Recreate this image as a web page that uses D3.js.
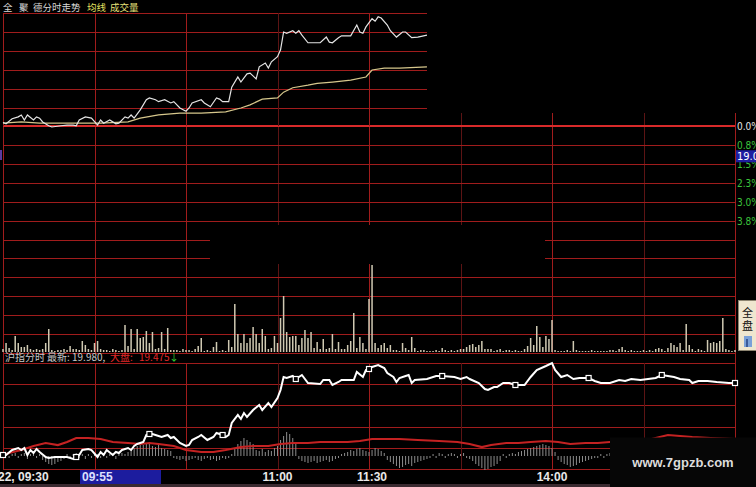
<!DOCTYPE html>
<html><head><meta charset="utf-8">
<script src="https://cdn.jsdelivr.net/npm/d3@7"></script>
<style>html,body{margin:0;padding:0;background:#000;overflow:hidden}</style>
</head><body>
<svg id="c" width="756" height="487"></svg>
<script>
// ---------- DATA ----------
// top panel (全聚德): [minute, price]
const topPrice = [[0,18.67],[1,18.65],[3,18.73],[5,18.76],[6,18.79],[7,18.71],[8,18.79],[10,18.71],[11,18.76],[12,18.74],[13,18.68],[15,18.62],[16,18.60],[19,18.62],[21,18.63],[23,18.63],[24,18.62],[25,18.71],[27,18.76],[29,18.74],[31,18.63],[32,18.71],[33,18.66],[35,18.71],[37,18.65],[38,18.66],[40,18.76],[41,18.74],[42,18.79],[43,18.74],[45,18.87],[47,19.03],[48,19.06],[50,19.03],[51,19.00],[53,19.03],[55,18.98],[56,19.00],[58,18.90],[60,18.85],[61,18.90],[62,18.98],[65,19.03],[66,18.98],[68,18.92],[70,19.06],[71,19.04],[72,19.00],[74,19.00],[75,19.23],[77,19.39],[78,19.31],[80,19.44],[81,19.45],[83,19.36],[84,19.55],[86,19.61],[87,19.53],[88,19.63],[90,19.71],[91,19.82],[92,20.10],[93,20.08],[95,20.12],[96,20.08],[97,20.12],[98,20.05],[100,19.93],[104,19.93],[106,20.02],[107,19.94],[108,19.93],[110,20.01],[111,20.04],[114,20.04],[116,20.21],[117,20.10],[118,20.08],[119,20.18],[121,20.31],[122,20.27],[123,20.34],[124,20.32],[126,20.21],[127,20.12],[129,20.02],[131,20.10],[132,20.10],[134,20.01],[136,20.02],[139,20.05]];
const topAvg = [[0,18.66],[6,18.68],[12,18.66],[21,18.66],[32,18.66],[41,18.68],[45,18.74],[51,18.79],[58,18.82],[65,18.82],[73,18.84],[78,18.90],[81,18.95],[85,19.04],[90,19.06],[92,19.15],[95,19.22],[100,19.26],[103,19.29],[108,19.31],[114,19.34],[119,19.39],[121,19.50],[125,19.53],[130,19.53],[139,19.55]];
const topGridPrices = [18.9,19.2,19.5,19.8,20.1,20.4];

// main chart volume, one value per minute (0..240)
const volumes = [30,90,40,20,160,90,50,50,70,30,
20,30,20,30,90,230,20,10,20,20,
30,20,60,30,30,20,110,70,30,20,
90,110,30,20,20,10,30,20,10,20,
270,60,230,30,230,140,150,210,90,200,
30,40,200,30,240,20,20,20,10,30,
20,20,10,30,60,140,10,20,10,50,
100,10,20,10,120,50,480,180,90,180,
90,140,250,180,90,230,160,30,40,160,
90,340,560,200,150,160,160,70,140,220,
140,200,40,100,30,130,30,40,180,30,
100,30,30,70,110,390,40,150,90,30,
530,870,90,40,70,90,40,70,20,20,
10,90,40,20,150,40,10,20,20,10,
10,10,20,10,40,20,10,20,10,20,
30,30,50,70,80,50,70,110,30,30,
30,10,20,30,10,20,20,10,20,10,
10,30,60,140,70,260,150,50,160,130,
320,20,10,10,10,20,10,110,20,10,
10,10,10,20,10,10,10,10,10,20,
20,10,30,50,20,10,20,10,10,10,
20,10,20,10,30,40,30,10,40,90,
70,50,90,20,280,70,30,10,30,20,
10,120,90,100,90,110,340,30,20,10,
20];
const pctGrid = [0,0.75,1.5,2.25,3,3.75,4.5,5.25,6,6.75,7.5,8.25,9];
const pctTicks = [0,0.75,1.5,2.25,3,3.75];
const pctLabels = ["0.0%","0.8%","1.5%","2.3%","3.0%","3.8%"];
const currentTag = {label:"19.0", pct:1.2};

// bottom panel (沪指分时): [minute, value]
const idxLine = [[0,2907],[1,2907],[3,2909.5],[5,2910.5],[6,2909.5],[7,2910.5],[8,2907],[9,2909.5],[10,2908],[11,2910],[12,2908.5],[14,2906],[15,2905.5],[17,2906],[21,2906],[23,2905],[25,2907],[26,2909.5],[28,2910],[29,2909.5],[31,2906],[32,2908.5],[33,2907],[34,2909.5],[36,2907],[37,2908.5],[38,2908],[39,2909.5],[41,2910.5],[42,2909.5],[43,2911.5],[44,2912.5],[46,2913.5],[47,2917],[49,2917.5],[50,2917],[52,2916],[54,2917],[55,2915.5],[56,2916],[58,2913],[60,2911.5],[61,2912],[62,2914.5],[64,2916],[65,2917],[67,2914.5],[69,2916],[70,2918],[72,2917],[73,2916],[74,2917],[75,2923],[77,2927],[78,2925],[79,2928],[80,2926],[82,2929.5],[84,2932],[85,2929.5],[87,2933],[88,2931],[90,2935.5],[91,2939.5],[92,2946],[93,2945.5],[95,2946.5],[96,2945],[98,2947],[100,2943],[104,2942.5],[105,2944.5],[107,2944.5],[108,2942],[110,2943.5],[111,2944.5],[115,2944.5],[116,2948.5],[118,2946],[119,2949.5],[121,2951],[123,2952],[125,2950.5],[126,2948],[128,2946],[129,2943.5],[130,2945.5],[132,2946.5],[133,2947],[134,2943],[135,2944.5],[139,2945],[142,2946.5],[144,2946.5],[148,2946],[150,2945],[152,2946],[153,2945],[156,2943],[158,2940],[159,2939.5],[161,2941],[162,2941],[164,2943],[166,2943],[168,2942],[171,2942],[173,2946],[175,2949.5],[178,2951.5],[180,2953],[181,2949.5],[183,2946],[185,2947],[187,2945],[189,2945.5],[192,2945.5],[194,2944],[196,2943],[199,2943],[202,2944.5],[204,2944],[206,2945],[209,2944.5],[214,2945.5],[216,2947],[218,2946.5],[220,2946],[222,2945],[225,2944.5],[226,2943],[228,2944],[231,2944],[234,2943.5],[238,2943],[240,2943]];
const idxMarkers = [[0,2907],[24,2906],[48,2917.5],[72,2917],[96,2945],[120,2950],[144,2946.5],[168,2942],[192,2945.5],[216,2947],[240,2943]];
const idxRed = [[0,2907],[2,2908],[6,2909.5],[10,2911.5],[14,2913],[18,2912],[21,2913.5],[24,2915.5],[28,2915.5],[32,2915],[36,2913.5],[41,2913],[45,2912.5],[48,2913],[51,2912.5],[56,2911.5],[60,2909.5],[65,2908.5],[69,2908.5],[73,2909.5],[78,2911],[82,2911.5],[87,2911.5],[91,2912.5],[95,2913],[100,2913],[104,2913.5],[108,2913.5],[113,2913.5],[117,2914],[121,2915],[130,2915],[136,2914.5],[143,2914],[149,2913.5],[153,2912.5],[157,2911],[160,2912],[165,2913],[169,2913],[173,2913.5],[178,2914],[182,2913.5],[186,2912.5],[191,2913],[195,2913],[199,2913.5],[205,2913.5],[210,2914],[214,2915.5],[218,2917],[222,2916.5],[226,2916],[232,2915.5],[240,2915]];
const idxDiff = [2,3,-2,2,3,-2,2,3,-3,2,3,-2,2,
-4,-6,-8,-9,-8,-6,-5,-3,
2,-2,2,3,-2,2,-3,2,-2,3,2,-2,3,-2,2,2,-3,2,3,2,
4,6,8,10,12,11,13,12,10,9,11,8,7,6,5,
-2,-3,-4,-3,-5,-4,-3,-2,-4,-5,-3,-2,-4,-3,-5,-4,-2,-3,-2,2,
8,12,15,18,16,14,12,
6,5,7,4,6,5,8,10,
16,20,24,22,18,14,
-3,-5,-6,-7,-6,-5,-7,-6,-5,-4,-6,-5,-3,-2,
2,3,4,6,5,7,8,6,5,4,
6,8,7,5,3,
-4,-6,-8,-10,-12,-11,-9,-8,-10,-7,-6,-5,-4,-3,-2,
2,-2,3,2,-2,2,3,2,-2,2,3,-2,-3,-5,-8,
-10,-12,-14,-13,-11,-10,-8,-5,
2,-2,2,3,2,4,5,
6,7,8,9,10,11,12,11,10,8,4,
-4,-6,-8,-9,-11,-10,-9,-7,-6,-5,-4,-3,-2,-2,
2,-2,2,3,-2,-3,2,2,-2,3,2,-2,2,3,-2,2,2,-3,2,3,2,-2,2,3,-2,2,2,-3,2,3,2,-2,2,3,-2,2,2,-3,2,3,2,-2,2,3,2];
const idxGrid = [2900,2910.6,2921.2,2931.8,2942.4,2953];

const gridMinutes = [0,30,60,90,120,150,180,210,240];
const dimMinutes = [90,150,210];
const timeTicks = [0,25,90,120,180];
const timeLabels = ["22, 09:30","09:55","11:00","11:30","14:00"];

// ---------- DRAW ----------
const svg = d3.select("#c");
svg.append("rect").attr("width",756).attr("height",487).attr("fill","#000");
const x = d3.scaleLinear().domain([0,240]).range([3,735]);
const px = v => Math.round(v) + 0.5;
const yPct = d3.scaleLinear().domain([0,9]).range([126,353]);
const yVol = d3.scaleLinear().domain([0,1000]).range([352,252]);
const yTop = d3.scaleLinear().domain([18.6,20.4]).range([127,13]);
const yIdx = d3.scaleLinear().domain([2900,2953]).range([469,363]);
const yDiff = d3.scaleLinear().domain([-20,20]).range([476,436]);
const RED = "#a01c1c", DIM = "#5c1414", BRIGHT = "#d82a2a";
const cjk = "'Noto Sans CJK SC', sans-serif";

// main grid
const g = svg.append("g");
g.selectAll(".hv").data(gridMinutes).join("line")
  .attr("x1",d=>px(x(d))).attr("x2",d=>px(x(d)))
  .attr("y1",113).attr("y2",353)
  .attr("stroke",d=>dimMinutes.includes(d)?DIM:RED).attr("stroke-width",1);
g.selectAll(".hh").data(pctGrid).join("line")
  .attr("x1",3).attr("x2",735)
  .attr("y1",d=>d===0?yPct(d):px(yPct(d))).attr("y2",d=>d===0?yPct(d):px(yPct(d)))
  .attr("stroke",d=>d===0?BRIGHT:RED).attr("stroke-width",d=>d===0?2:1);
// pasted black block in the middle
svg.append("rect").attr("x",210).attr("y",225).attr("width",335).attr("height",39).attr("fill","#000");

// volume bars
svg.append("g").selectAll("rect").data(volumes).join("rect")
  .attr("x",(d,i)=>x(i)-0.75).attr("width",1.5)
  .attr("y",d=>yVol(d)).attr("height",d=>yVol(0)-yVol(d))
  .attr("fill","#cfc9b2");

// left small mark
svg.append("rect").attr("x",0).attr("y",150).attr("width",2).attr("height",10).attr("fill","#5a3aa0");

// top panel
svg.append("rect").attr("x",0).attr("y",0).attr("width",428).attr("height",125).attr("fill","#000");
const tg = svg.append("g");
tg.selectAll("line.h").data(topGridPrices).join("line")
  .attr("x1",3).attr("x2",427).attr("y1",d=>px(yTop(d))).attr("y2",d=>px(yTop(d)))
  .attr("stroke",RED);
tg.selectAll("line.v").data(gridMinutes.filter(m=>x(m)<=427)).join("line")
  .attr("x1",d=>px(x(d))).attr("x2",d=>px(x(d))).attr("y1",13).attr("y2",126)
  .attr("stroke",d=>dimMinutes.includes(d)?DIM:RED);
const lineTop = d3.line().x(d=>x(d[0])).y(d=>yTop(d[1]));
svg.append("path").datum(topAvg).attr("d",lineTop).attr("fill","none").attr("stroke","#d6c78c").attr("stroke-width",1.2);
svg.append("path").datum(topPrice).attr("d",lineTop).attr("fill","none").attr("stroke","#e4e4e4").attr("stroke-width",1.2);

// top header
const hdr = svg.append("g").attr("font-family",cjk).attr("font-size",9.5);
[["全",3,"#d8d8d8"],["聚",19,"#d8d8d8"],["德分时走势",33,"#d8d8d8"],["均线",87,"#e2e060"],["成交量",110,"#e8e27a"]]
  .forEach(([t,xx,c])=>hdr.append("text").attr("x",xx).attr("y",11).attr("fill",c).text(t));

// right labels
const rl = svg.append("g").attr("font-family","'DejaVu Sans Condensed', 'DejaVu Sans', sans-serif").attr("font-size",10);
rl.selectAll("text").data(pctTicks).join("text")
  .attr("x",737).attr("y",d=>yPct(d)+4)
  .attr("fill",(d,i)=>i===0?"#e6e6e6":"#3cc43c")
  .text((d,i)=>pctLabels[i]);
rl.append("rect").attr("x",736).attr("y",yPct(currentTag.pct)-6).attr("width",22).attr("height",12).attr("fill","#1e1ea0");
rl.append("text").attr("x",737).attr("y",yPct(currentTag.pct)+4).attr("fill","#fff").attr("font-size",11).text(currentTag.label);

// 全盘 box
svg.append("rect").attr("x",738.5).attr("y",300.5).attr("width",22).attr("height",50).attr("fill","#efe6cf").attr("stroke","#8c8470");
svg.append("text").attr("x",742).attr("y",317).attr("font-family",cjk).attr("font-size",11).attr("fill","#111").text("全");
svg.append("text").attr("x",742).attr("y",330).attr("font-family",cjk).attr("font-size",11).attr("fill","#111").text("盘");
svg.append("rect").attr("x",744).attr("y",336).attr("width",8).attr("height",11).attr("fill","#7aa0d8");
svg.append("rect").attr("x",746).attr("y",339).attr("width",2).attr("height",8).attr("fill","#3a5a9a");

// bottom panel header
const bh = svg.append("g").attr("font-family",cjk).attr("font-size",10);
[["沪指分时",5,"#c8c8c8"],["最新:",47,"#c8c8c8"],["19.980,",72,"#c8c8c8"],["大盘:",110,"#e02828"],["19.475",139,"#e02828"],["↓",169,"#30d030"]]
  .forEach(([t,xx,c])=>bh.append("text").attr("x",xx).attr("y",361).attr("fill",c).text(t));

// bottom panel grid
const bg = svg.append("g");
bg.selectAll("line.h").data(idxGrid).join("line")
  .attr("x1",3).attr("x2",735).attr("y1",d=>px(yIdx(d))).attr("y2",d=>px(yIdx(d)))
  .attr("stroke",RED);
bg.selectAll("line.v").data(gridMinutes).join("line")
  .attr("x1",d=>px(x(d))).attr("x2",d=>px(x(d)))
  .attr("y1",d=>(d===0||d===240)?353:363).attr("y2",469)
  .attr("stroke",d=>dimMinutes.includes(d)?DIM:RED);

// diff bars
svg.append("g").selectAll("rect").data(idxDiff).join("rect")
  .attr("x",(d,i)=>x(i)-0.5).attr("width",1)
  .attr("y",d=>Math.min(yDiff(d),yDiff(0))).attr("height",d=>Math.abs(yDiff(d)-yDiff(0)))
  .attr("fill","#8c8c8c");

const lineIdx = d3.line().x(d=>x(d[0])).y(d=>yIdx(d[1]));
svg.append("path").datum(idxRed).attr("d",lineIdx).attr("fill","none").attr("stroke","#c42222").attr("stroke-width",2.2);
svg.append("path").datum(idxLine).attr("d",lineIdx).attr("fill","none").attr("stroke","#ffffff").attr("stroke-width",2);
svg.append("g").selectAll("rect").data(idxMarkers).join("rect")
  .attr("x",d=>x(d[0])-2.5).attr("y",d=>yIdx(d[1])-2.5).attr("width",5).attr("height",5)
  .attr("fill","#000").attr("stroke","#fff").attr("stroke-width",1.2);

// time axis
svg.append("rect").attr("x",80).attr("y",470).attr("width",81).attr("height",14).attr("fill","#1c1c9e");
const ta = svg.append("g").attr("font-family","'Liberation Sans', Arial, sans-serif").attr("font-size",12).attr("font-weight","bold").attr("fill","#e8e8e8");
ta.selectAll("text").data(timeTicks).join("text")
  .attr("x",(d,i)=> i===0 ? -2 : (i===1 ? 82 : x(d)+(i===3?3:0)))
  .attr("text-anchor",(d,i)=> i<2 ? "start" : "middle")
  .attr("y",481)
  .attr("fill",(d,i)=> i===1 ? "#dde0ff" : "#e8e8e8")
  .text((d,i)=>timeLabels[i]);

// bottom strip
svg.append("rect").attr("x",0).attr("y",484).attr("width",756).attr("height",3).attr("fill","#3a2a30");

// watermark box
svg.append("rect").attr("x",610).attr("y",437.5).attr("width",146).attr("height",50).attr("fill","#060606");
svg.append("text").attr("x",683).attr("y",467).attr("text-anchor","middle")
  .attr("font-family","'Liberation Sans', Arial, sans-serif").attr("font-weight","bold").attr("font-size",13)
  .attr("fill","#dcdcdc").text("www.7gpzb.com");
</script>
</body></html>
